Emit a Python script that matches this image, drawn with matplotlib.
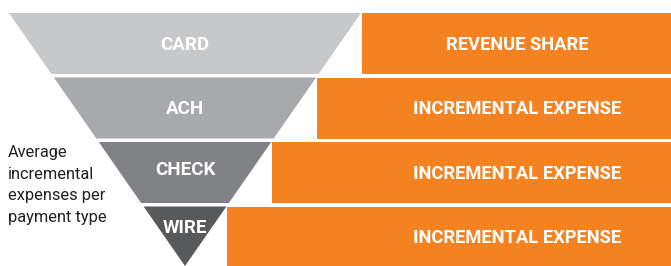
import matplotlib.pyplot as plt
from matplotlib.patches import Polygon, Rectangle

# Funnel levels (top to bottom) and the matching orange bar labels
categories = ['CARD', 'ACH', 'CHECK', 'WIRE']
bar_labels = ['REVENUE SHARE', 'INCREMENTAL EXPENSE',
              'INCREMENTAL EXPENSE', 'INCREMENTAL EXPENSE']
side_note = 'Average\nincremental\nexpenses per\npayment type'

funnel_colors = ['#c7c8ca', '#a7a9ac', '#808285', '#58595b']
orange = '#f58220'

# layout in pixel units
W, H = 671, 266
top, apex = 13, 266
cx, half_top = 185, 176
seg_h, gap = 61, 3.5
label_dy = [1.5, 0.5, -2.5, -8]

fig = plt.figure(figsize=(W / 100, H / 100), dpi=100)
ax = fig.add_axes([0, 0, 1, 1])
ax.set_xlim(0, W)
ax.set_ylim(H, 0)
ax.axis('off')

plt.rcParams['font.family'] = ['Roboto', 'DejaVu Sans']


def half_width(y):
    return half_top * (apex - y) / (apex - top)


for i, (cat, lab) in enumerate(zip(categories, bar_labels)):
    y0 = top + i * (seg_h + gap)
    y1 = min(y0 + seg_h, apex)
    h0, h1 = half_width(y0), half_width(y1)
    pts = [(cx - h0, y0), (cx + h0, y0), (cx + h1, y1), (cx - h1, y1)]
    ax.add_patch(Polygon(pts, closed=True, facecolor=funnel_colors[i],
                         edgecolor='none'))
    ax.text(cx, (y0 + y1) / 2 + label_dy[i], cat, color='white',
            fontsize=13.5, fontweight='bold', ha='center', va='center')

    # orange bar starting at the funnel edge
    x0 = cx + h0 + 1
    ax.add_patch(Rectangle((x0, y0), W - x0, y1 - y0, facecolor=orange,
                           edgecolor='none'))
    ax.text(517, (y0 + y1) / 2 + 1.5, lab, color='white', fontsize=13.2,
            fontweight='bold', ha='center', va='center')

ax.text(8, 185, side_note, color='#231f20', fontsize=11.8, ha='left',
        va='center', linespacing=1.55)

plt.savefig('out.png', dpi=100)
